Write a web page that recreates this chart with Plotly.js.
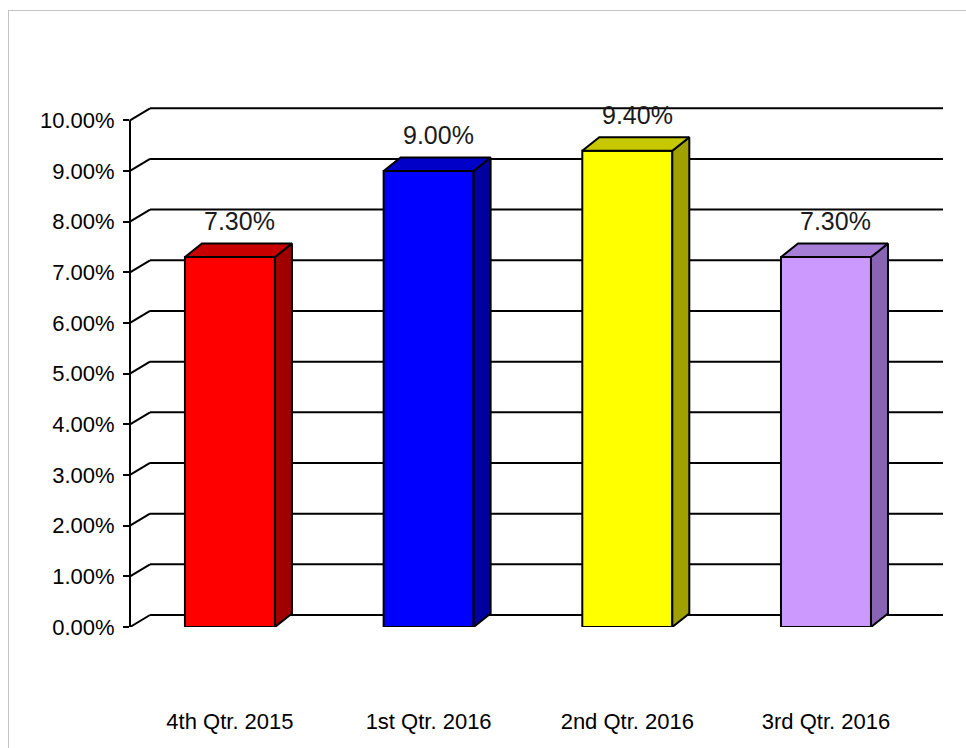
<!DOCTYPE html>
<html>
<head>
<meta charset="utf-8">
<script src="https://cdn.plot.ly/plotly-3.0.1.min.js"></script>
<style>
  html, body { margin: 0; padding: 0; background: #fff; }
  #wrap { position: relative; width: 966px; height: 748px; overflow: hidden; }
  #chart { position: absolute; left: 0; top: 0; width: 966px; height: 748px; }
  #frame { position: absolute; left: 8px; top: 10px; width: 970px; height: 760px;
           border-left: 1px solid #c4c4c4; border-top: 1px solid #c4c4c4; pointer-events: none; }
</style>
</head>
<body>
<div id="wrap">
  <div id="chart"></div>
  <div id="frame"></div>
</div>
<script>
// ---- data ----
const categories = ['4th Qtr. 2015', '1st Qtr. 2016', '2nd Qtr. 2016', '3rd Qtr. 2016'];
const values = [7.3, 9.0, 9.4, 7.3];
const yTicks = [0, 1, 2, 3, 4, 5, 6, 7, 8, 9, 10];
const yTickLabels = ['0.00%', '1.00%', '2.00%', '3.00%', '4.00%', '5.00%', '6.00%', '7.00%', '8.00%', '9.00%', '10.00%'];

// ---- styles ----
const frontColors = ['#FF0000', '#0000FF', '#FFFF00', '#CC99FF'];
const sideColors  = ['#A00000', '#0000A0', '#A0A000', '#8A64B4'];
const topColors   = ['#C80000', '#0000C8', '#C8C800', '#A67ED6'];

// ---- geometry helpers (layout in pixels -> data units) ----
const W = 966, H = 748;
const margin = {l: 130, r: 23, t: 100, b: 121};
const xRange = [-0.503, 3.589];
const yRange = [0, 10.4];
const plotW = W - margin.l - margin.r;
const plotH = H - margin.t - margin.b;
const pxPerX = plotW / (xRange[1] - xRange[0]);
const pxPerY = plotH / (yRange[1] - yRange[0]);
const barW = 0.453;
const depthX = 17 / pxPerX, depthY = 13.5 / pxPerY;     // bar depth
const wallX = 20 / plotW, wallY = 12 / pxPerY;           // back wall offset

const xs = categories.map((c, i) => i);

const traces = [];
// front faces
traces.push({
  type: 'bar', x: xs, y: values, width: barW,
  marker: {color: frontColors, line: {color: '#000', width: 2}},
  hoverinfo: 'skip', showlegend: false
});
// side & top faces
xs.forEach((x, i) => {
  const v = values[i];
  const r = x + barW / 2, l = x - barW / 2;
  traces.push({
    type: 'scatter', mode: 'lines', fill: 'toself', fillcolor: sideColors[i],
    x: [r, r + depthX, r + depthX, r, r],
    y: [v, v + depthY, depthY, 0, v],
    line: {color: '#000', width: 2}, hoverinfo: 'skip', showlegend: false
  });
  traces.push({
    type: 'scatter', mode: 'lines', fill: 'toself', fillcolor: topColors[i],
    x: [l, l + depthX, r + depthX, r, l],
    y: [v, v + depthY, v + depthY, v, v],
    line: {color: '#000', width: 2}, hoverinfo: 'skip', showlegend: false
  });
});

const shapes = [];
yTicks.forEach(t => {
  // back wall gridline
  shapes.push({type: 'line', layer: 'below', xref: 'paper', yref: 'y',
    x0: wallX, x1: 1, y0: t + wallY, y1: t + wallY, line: {color: '#000', width: 2}});
  // side wall diagonal
  shapes.push({type: 'line', layer: 'below', xref: 'paper', yref: 'y',
    x0: 0, x1: wallX, y0: t, y1: t + wallY, line: {color: '#000', width: 2}});
});
// vertical axis line
shapes.push({type: 'line', layer: 'above', xref: 'paper', yref: 'y',
  x0: 0, x1: 0, y0: yTicks[0], y1: yTicks[yTicks.length - 1], line: {color: '#000', width: 2}});

const annotations = values.map((v, i) => ({
  x: xs[i], y: v, xref: 'x', yref: 'y',
  text: v.toFixed(2) + '%', showarrow: false,
  xanchor: 'center', yanchor: 'middle', xshift: 10, yshift: 36,
  font: {family: 'Liberation Sans, Arial, sans-serif', size: 25, color: '#1a1a1a'}
}));

const layout = {
  width: W, height: H, margin: margin,
  paper_bgcolor: 'rgba(0,0,0,0)', plot_bgcolor: 'rgba(0,0,0,0)',
  showlegend: false,
  xaxis: {
    type: 'linear', range: xRange, tickmode: 'array', tickvals: xs, ticktext: categories,
    showgrid: false, zeroline: false, showline: false, ticks: '',
    ticklabelstandoff: 79,
    tickfont: {family: 'Liberation Sans, Arial, sans-serif', size: 22, color: '#000'},
    fixedrange: true
  },
  yaxis: {
    range: yRange, tickmode: 'array', tickvals: yTicks, ticktext: yTickLabels,
    showgrid: false, zeroline: false, showline: false,
    ticks: 'outside', ticklen: 6, tickwidth: 2, tickcolor: '#000',
    ticklabelstandoff: 4,
    tickfont: {family: 'Liberation Sans, Arial, sans-serif', size: 22, color: '#000'},
    fixedrange: true
  },
  shapes: shapes,
  annotations: annotations
};

Plotly.newPlot('chart', traces, layout, {displayModeBar: false, staticPlot: true});
</script>
</body>
</html>
